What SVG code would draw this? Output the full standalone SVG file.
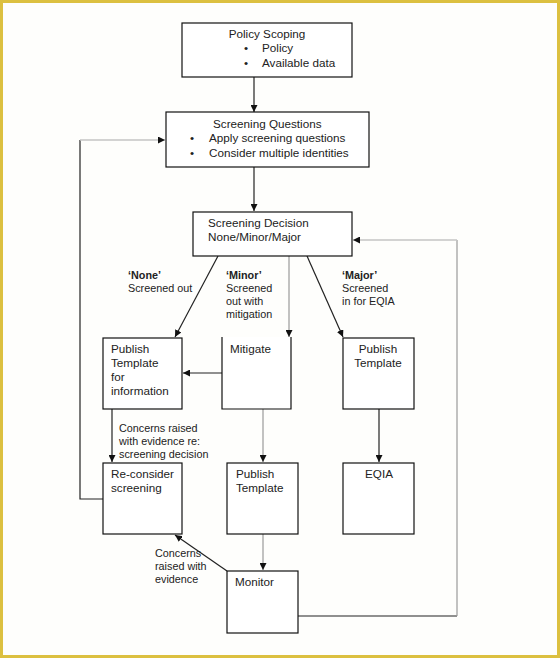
<svg xmlns="http://www.w3.org/2000/svg" width="560" height="658" viewBox="0 0 560 658">
<defs>
<style>
.box{fill:#fff;stroke:#111;stroke-width:1.2}
.t{font-family:"Liberation Sans",Arial,sans-serif;font-size:11.7px;fill:#222}
.l{font-family:"Liberation Sans",Arial,sans-serif;font-size:10.8px;fill:#222}
.b{font-weight:bold}
.dk{fill:none;stroke:#222;stroke-width:1.2}
.gr{fill:none;stroke:#999;stroke-width:1.2}
.lg{fill:none;stroke:#c4c4c4;stroke-width:1.4}
</style>
<marker id="ah" viewBox="0 0 10 10" refX="10" refY="5" markerWidth="7" markerHeight="7" markerUnits="userSpaceOnUse" orient="auto">
<path d="M0,0 L10,5 L0,10 z" fill="#111"/>
</marker>
</defs>
<rect x="0" y="0" width="560" height="658" fill="#fefefc"/>
<rect x="1.5" y="1.5" width="557" height="655" fill="none" stroke="#dcc040" stroke-width="3"/>

<g id="connectors">
<line class="dk" x1="254" y1="77" x2="254" y2="112" marker-end="url(#ah)"/>
<line class="dk" x1="254" y1="167" x2="254" y2="211" marker-end="url(#ah)"/>
<line class="dk" x1="218" y1="256" x2="175" y2="337" marker-end="url(#ah)"/>
<line class="gr" x1="289" y1="256" x2="289" y2="337" marker-end="url(#ah)"/>
<line class="dk" x1="307" y1="256" x2="343" y2="337" marker-end="url(#ah)"/>
<line class="dk" x1="222" y1="373" x2="183" y2="373" marker-end="url(#ah)"/>
<line class="dk" x1="112" y1="409" x2="112" y2="462" marker-end="url(#ah)"/>
<line class="gr" x1="263" y1="409" x2="263" y2="462" marker-end="url(#ah)"/>
<line class="dk" x1="379" y1="409" x2="379" y2="462" marker-end="url(#ah)"/>
<line class="gr" x1="263" y1="534" x2="263" y2="570" marker-end="url(#ah)"/>
<line class="dk" x1="227" y1="571" x2="175" y2="535" marker-end="url(#ah)"/>
<polyline class="dk" points="103,499 80,499 80,140"/>
<line class="lg" x1="80" y1="140" x2="165" y2="140" marker-end="url(#ah)"/>
<polyline class="dk" points="298,616 457,616"/>
<polyline class="gr" points="457,616 457,240"/>
<line class="lg" x1="457" y1="240" x2="353" y2="240" marker-end="url(#ah)"/>
</g>

<g id="policy-scoping">
<rect class="box" x="182" y="23" width="170" height="54"/>
<text class="t" x="267" y="38" text-anchor="middle">Policy Scoping</text>
<text class="t" x="244" y="52">•</text><text class="t" x="262" y="52">Policy</text>
<text class="t" x="244" y="67">•</text><text class="t" x="262" y="67">Available data</text>
</g>

<g id="screening-questions">
<rect class="box" x="166" y="112" width="203" height="55"/>
<text class="t" x="213" y="128">Screening Questions</text>
<text class="t" x="190" y="142">•</text><text class="t" x="209" y="142">Apply screening questions</text>
<text class="t" x="190" y="157">•</text><text class="t" x="209" y="157">Consider multiple identities</text>
</g>

<g id="screening-decision">
<rect class="box" x="193" y="212" width="159" height="44"/>
<text class="t" x="208" y="227">Screening Decision</text>
<text class="t" x="208" y="241">None/Minor/Major</text>
</g>

<g id="label-none">
<text class="l" x="128" y="279"><tspan class="b">‘None’</tspan></text>
<text class="l" x="128" y="292">Screened out</text>
</g>
<g id="label-minor">
<text class="l" x="226" y="279"><tspan class="b">‘Minor’</tspan></text>
<text class="l" x="226" y="292">Screened</text>
<text class="l" x="226" y="305">out with</text>
<text class="l" x="226" y="318">mitigation</text>
</g>
<g id="label-major">
<text class="l" x="342" y="279"><tspan class="b">‘Major’</tspan></text>
<text class="l" x="342" y="292">Screened</text>
<text class="l" x="342" y="305">in for EQIA</text>
</g>

<g id="publish-info">
<rect class="box" x="103" y="338" width="79" height="71"/>
<text class="t" x="111" y="353">Publish</text>
<text class="t" x="111" y="367">Template</text>
<text class="t" x="111" y="381">for</text>
<text class="t" x="111" y="395">information</text>
</g>

<g id="mitigate">
<polyline class="box" points="222,337 222,409 291,409 291,337" fill="none"/>
<text class="t" x="230" y="353">Mitigate</text>
</g>

<g id="publish-major">
<rect class="box" x="343" y="338" width="71" height="71"/>
<text class="t" x="378" y="353" text-anchor="middle">Publish</text>
<text class="t" x="378" y="367" text-anchor="middle">Template</text>
</g>

<g id="label-concerns-1">
<text class="l" x="119" y="432">Concerns raised</text>
<text class="l" x="119" y="445">with evidence re:</text>
<text class="l" x="119" y="458">screening decision</text>
</g>

<g id="reconsider">
<rect class="box" x="103" y="463" width="79" height="71"/>
<text class="t" x="111" y="478">Re-consider</text>
<text class="t" x="111" y="492">screening</text>
</g>

<g id="publish-minor">
<rect class="box" x="227" y="463" width="71" height="71"/>
<text class="t" x="236" y="478">Publish</text>
<text class="t" x="236" y="492">Template</text>
</g>

<g id="eqia">
<rect class="box" x="343" y="463" width="71" height="71"/>
<text class="t" x="379" y="478" text-anchor="middle">EQIA</text>
</g>

<g id="label-concerns-2">
<text class="l" x="155" y="557">Concerns</text>
<text class="l" x="155" y="570">raised with</text>
<text class="l" x="155" y="583">evidence</text>
</g>

<g id="monitor">
<rect class="box" x="227" y="571" width="71" height="62"/>
<text class="t" x="235" y="586">Monitor</text>
</g>
</svg>
